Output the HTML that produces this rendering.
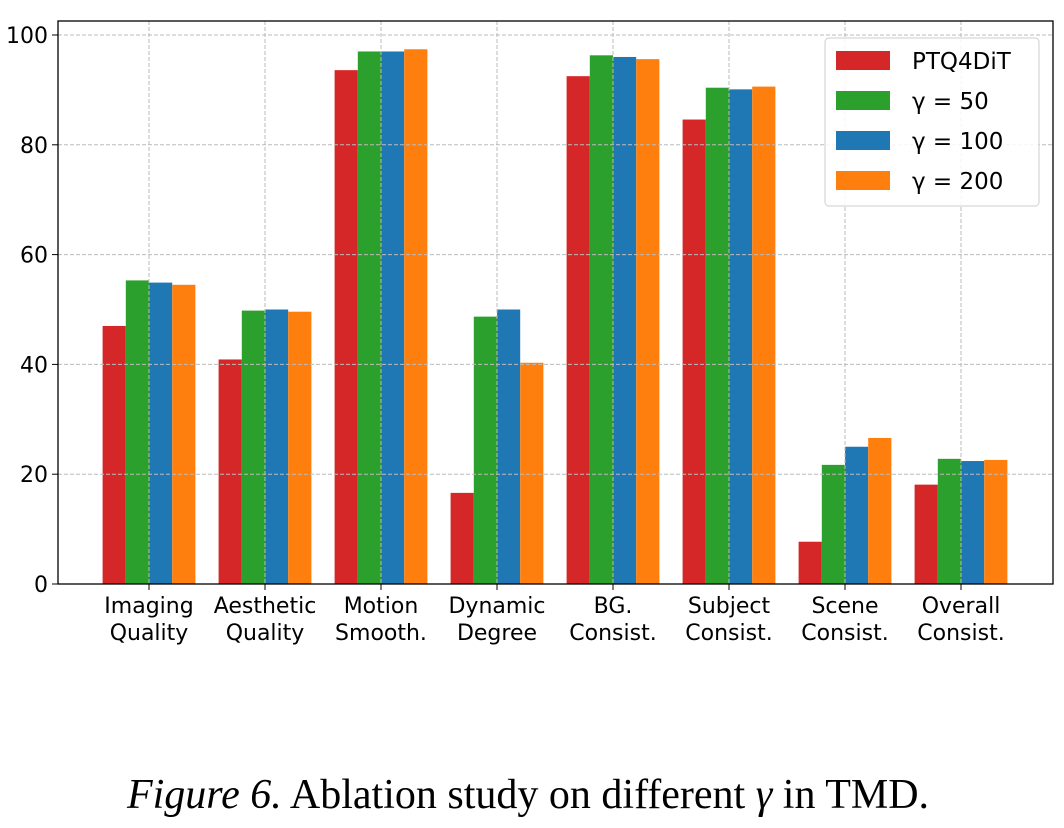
<!DOCTYPE html>
<html><head><meta charset="utf-8"><style>
html,body{margin:0;padding:0;background:#fff;width:1064px;height:828px;overflow:hidden}
svg text{font-family:"DejaVu Sans","Liberation Sans",sans-serif}
</style></head><body>
<svg id="chart" width="1064" height="828" xmlns="http://www.w3.org/2000/svg">
<g id="bars"></g>
<g id="grid"></g>
<g id="axes"></g>
<g id="legend"></g>
<text x="528" y="808" text-anchor="middle" style="font-family:'Liberation Serif',serif;font-size:42px"><tspan font-style="italic">Figure 6.</tspan> Ablation study on different <tspan font-style="italic">γ</tspan> in TMD.</text>
</svg>
<script>
const categories = [["Imaging","Quality"],["Aesthetic","Quality"],["Motion","Smooth."],["Dynamic","Degree"],["BG.","Consist."],["Subject","Consist."],["Scene","Consist."],["Overall","Consist."]];
const seriesNames = ["PTQ4DiT","γ = 50","γ = 100","γ = 200"];
const ptq4dit = [47.0,40.9,93.6,16.6,92.5,84.6,7.7,18.1];
const gamma50 = [55.3,49.8,97.0,48.7,96.3,90.4,21.7,22.8];
const gamma100 = [54.9,50.0,97.0,50.0,96.0,90.1,25.0,22.4];
const gamma200 = [54.5,49.6,97.4,40.3,95.6,90.6,26.6,22.6];
const yTicks = [0,20,40,60,80,100];

const series = [ptq4dit,gamma50,gamma100,gamma200];
const colors = ["#d62728","#2ca02c","#1f77b4","#ff7f0e"];
const NS="http://www.w3.org/2000/svg";
const L=58,R=1053,T=21,B=584;
const x0=149, step=116;
const xs=i=>x0+i*step;
const ys=v=>B-(v/100)*(B-35);
const bw=step*0.8/4;
function mk(tag,attrs,parent){const e=document.createElementNS(NS,tag);for(const k in attrs)e.setAttribute(k,attrs[k]);parent.appendChild(e);return e;}
const gb=document.getElementById('bars'),gg=document.getElementById('grid'),ga=document.getElementById('axes'),gl=document.getElementById('legend');
series.forEach((s,si)=>{s.forEach((v,i)=>{
  const r=mk('rect',{x:xs(i)-2*bw+si*bw,y:ys(v),width:bw,height:B-ys(v),fill:colors[si]},gb);
  
  
});});
yTicks.forEach(t=>{
  const y=ys(t);
  const g=mk('line',{x1:L,x2:R,y1:y,y2:y,stroke:'#bbb','stroke-width':1,'stroke-dasharray':'4,2'},gg);
  
  
  mk('line',{x1:L-6,x2:L,y1:y,y2:y,stroke:'#000','stroke-width':1},ga);
  const tx=mk('text',{x:L-10,y:y+8,'text-anchor':'end','font-size':22},ga);
  tx.textContent=t;
  
  
});
categories.forEach((c,i)=>{
  const x=xs(i);
  const g=mk('line',{x1:x,x2:x,y1:T,y2:B,stroke:'#bbb','stroke-width':1,'stroke-dasharray':'4,2'},gg);
  
  
  mk('line',{x1:x,x2:x,y1:B,y2:B+6,stroke:'#000','stroke-width':1},ga);
  c.forEach((ln,j)=>{
    const tx=mk('text',{x:x,y:B+29+j*27,'text-anchor':'middle','font-size':22},ga);
    tx.textContent=ln;
    
    
  });
});
mk('rect',{x:L,y:T,width:R-L,height:B-T,fill:'none',stroke:'#000','stroke-width':1.3},ga);
mk('rect',{x:825,y:38,width:214,height:168,rx:4,fill:'#fff','fill-opacity':0.85,stroke:'#ccc','stroke-width':1},gl);
seriesNames.forEach((n,i)=>{
  const y=60+i*40;
  const p=mk('rect',{x:836,y:y-9,width:54,height:19,fill:colors[i]},gl);
  
  
  const tx=mk('text',{x:912,y:y+9,'font-size':23},gl);
  tx.textContent=n;
  
  
});
</script>
</body></html>
